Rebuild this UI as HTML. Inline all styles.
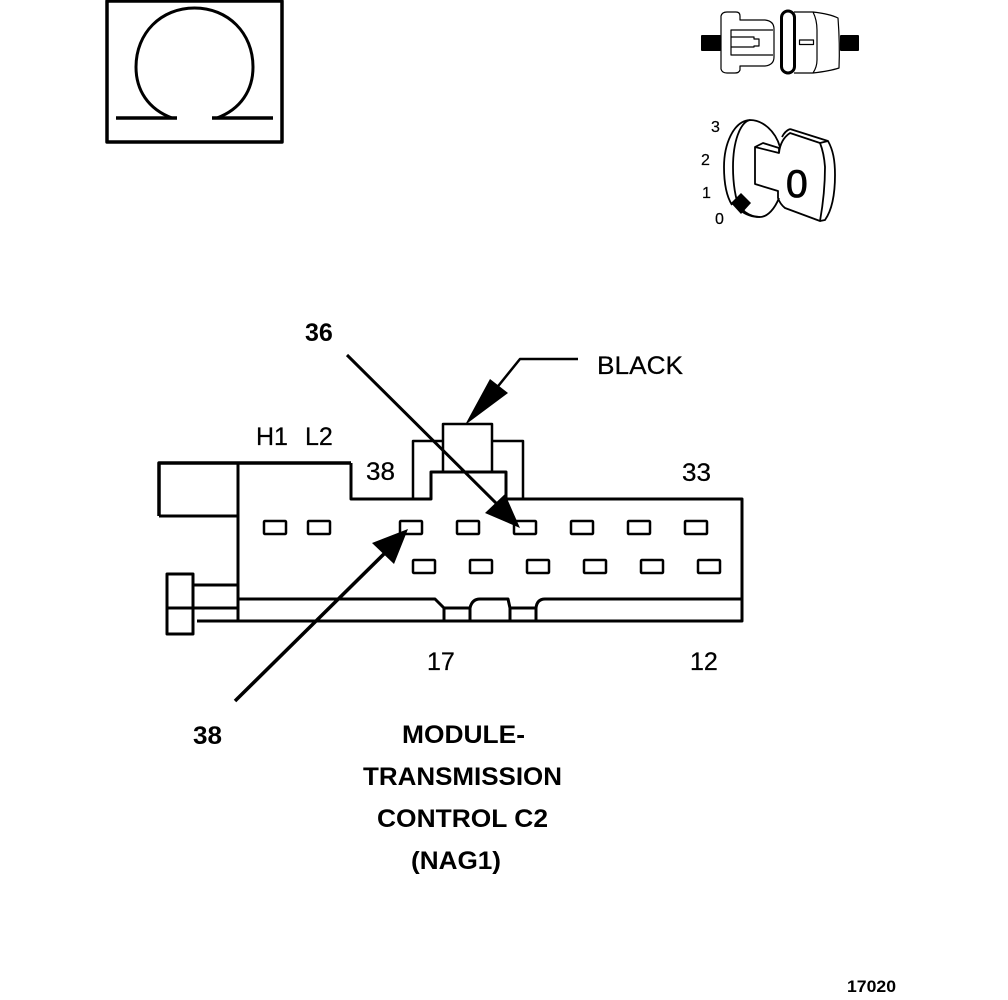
<!DOCTYPE html>
<html><head><meta charset="utf-8"><style>html,body{margin:0;padding:0;background:#fff}svg{display:block}
text{font-family:"Liberation Sans",sans-serif;fill:#000}.b{font-weight:bold;font-size:25px}.r{font-size:25px;stroke:#000;stroke-width:.25px}.k{font-size:16px;stroke:#000;stroke-width:.2px}</style></head>
<body>
<svg width="1008" height="1000" viewBox="0 0 1008 1000" xmlns="http://www.w3.org/2000/svg" fill="none" stroke="#000" stroke-linejoin="round">
<!-- Omega -->
<rect x="107" y="1" width="175" height="141" stroke-width="3.500"/>
<path d="M116 118H177M212 118H273" stroke-width="3.500"/>
<path d="M172 118C148 109 136 90 136 67C136 33 161 8 194.500 8C228 8 253 33 253 67C253 90 241 109 217 118" stroke-width="3"/>
<!-- Switch -->
<rect x="701" y="35" width="20" height="16" rx="1" fill="#000" stroke="none"/>
<rect x="840" y="35" width="19" height="16" rx="1" fill="#000" stroke="none"/>
<g stroke-width="1.200">
<path d="M721 16Q722 12 727 12H736Q740 12 740 16V20H765Q774 21 774 29V57Q774 65 765 66H740V70Q739 73 735 73H727Q722 73 721 69Z"/>
<path d="M773 30H731V55H773M731 37H754V39H759V46H754V47H731"/>
<path d="M794 12H813Q830 14 838 18Q840 44 839 68Q830 71 813 73H794M813 12Q817 20 817 30V60Q817 67 813 73"/>
<rect x="799.500" y="40" width="14" height="4.500"/>
</g>
<rect x="781.500" y="11" width="13" height="62" rx="6.500" stroke-width="3" fill="#fff"/>
<text class="k" stroke="none" x="711" y="132">3</text>
<text class="k" stroke="none" x="701" y="165">2</text>
<text class="k" stroke="none" x="702" y="198">1</text>
<text class="k" stroke="none" x="715" y="224">0</text>
<g stroke-width="1.800">
<path d="M750 120C733 121 724 145 724 167C724 185 727 197 732 205"/>
<path d="M738 204L745 212Q752 217 760 217"/>
<path d="M750 120C740 122 733 142 733 167C733 185 736 200 740 210C746 215 752 217 760 217C768 217 775 208 779 198M750 120C762 120 775 130 780 147"/>
<path d="M755 147L763 143L779 148V153L755 147V184L778 191V198Q780 204 785 208L820 221Q825 193 825 167Q824 153 820 143L790 133C784 137 780 143 779 153"/>
<path d="M790 129L828 141C833 150 835 160 835 175C835 195 832 210 825 220L820 221M790 129Q785 131 782 137M828 141L820 143"/>
</g>
<text stroke="#000" stroke-width=".8" x="786" y="197" style="font-size:39px;font-family:'Liberation Sans',sans-serif">0</text>
<path d="M741 193L751 203L741 214L731 203Z" fill="#000" stroke="none"/>
<!-- Connector -->
<g stroke-width="3">
<path d="M159 516V463H351" stroke-width="3.500"/>
<path d="M351 463V499H431V472H506V499H742V621H197" stroke-width="3"/>
<path d="M159 516H238M238 463V621"/>
<path d="M238 585H193V574H167V634H193V608H167M193 608H238M193 608V574"/>
<path d="M238 599H435L444 608V621M444 608H470V621M470 608Q472 599 480 599H508L510 608V621M510 608H536V621M536 608Q537 599 545 599H742"/>
<path d="M413 499V441H443M492 441H523V499M443 472V424H492V472" stroke-width="2.500"/>
<g stroke-width="2.500">
<rect x="264" y="521" width="22" height="13" rx="1"/><rect x="308" y="521" width="22" height="13" rx="1"/>
<rect x="400" y="521" width="22" height="13" rx="1"/><rect x="457" y="521" width="22" height="13" rx="1"/>
<rect x="514" y="521" width="22" height="13" rx="1"/><rect x="571" y="521" width="22" height="13" rx="1"/>
<rect x="628" y="521" width="22" height="13" rx="1"/><rect x="685" y="521" width="22" height="13" rx="1"/>
<rect x="413" y="560" width="22" height="13" rx="1"/><rect x="470" y="560" width="22" height="13" rx="1"/>
<rect x="527" y="560" width="22" height="13" rx="1"/><rect x="584" y="560" width="22" height="13" rx="1"/>
<rect x="641" y="560" width="22" height="13" rx="1"/><rect x="698" y="560" width="22" height="13" rx="1"/>
</g>
</g>
<!-- Arrows -->
<path d="M347 355L505 512" stroke-width="3"/>
<path d="M520 528L485 513L505 494Z" fill="#000" stroke="none"/>
<path d="M235 701L392 546" stroke-width="3.500"/>
<path d="M408 529L372 543L394 564Z" fill="#000" stroke="none"/>
<path d="M578 359H520L495 390" stroke-width="2.500"/>
<path d="M465 425L490 379L508 393Z" fill="#000" stroke="none"/>
<!-- Text -->
<g stroke="none">
<text class="r" x="597" y="374" textLength="86" lengthAdjust="spacingAndGlyphs">BLACK</text>
<text class="r" x="256" y="445">H1</text>
<text class="r" x="305" y="445">L2</text>
<text class="r" x="366" y="480" textLength="29" lengthAdjust="spacingAndGlyphs">38</text>
<text class="r" x="682" y="481" textLength="29" lengthAdjust="spacingAndGlyphs">33</text>
<text class="r" x="427" y="670">17</text>
<text class="r" x="690" y="670">12</text>
<text class="b" x="305" y="341">36</text>
<text class="b" x="193" y="744" textLength="29" lengthAdjust="spacingAndGlyphs">38</text>
<text class="b" x="402" y="743" textLength="123" lengthAdjust="spacingAndGlyphs">MODULE-</text>
<text class="b" x="363" y="785" textLength="199" lengthAdjust="spacingAndGlyphs">TRANSMISSION</text>
<text class="b" x="377" y="827" textLength="171" lengthAdjust="spacingAndGlyphs">CONTROL C2</text>
<text class="b" x="411" y="869" textLength="90" lengthAdjust="spacingAndGlyphs">(NAG1)</text>
<text x="847" y="992" textLength="49" lengthAdjust="spacingAndGlyphs" style="font-size:17px;font-weight:bold">17020</text>
</g>
</svg>
</body></html>
